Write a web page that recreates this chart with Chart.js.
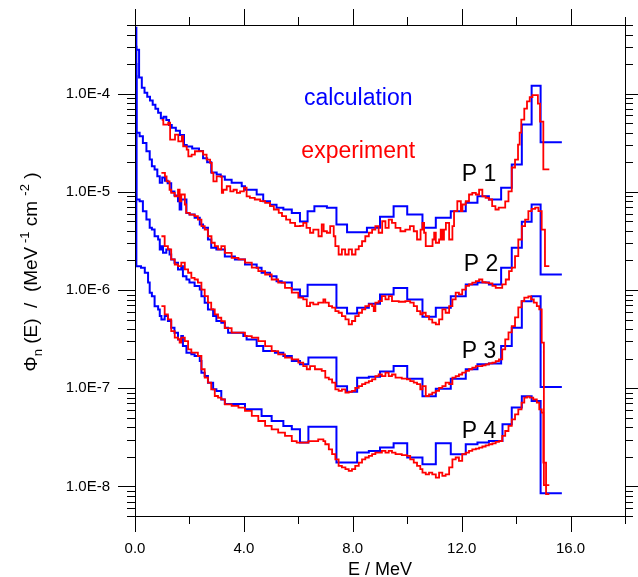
<!DOCTYPE html>
<html>
<head>
<meta charset="utf-8">
<script src="https://cdn.jsdelivr.net/npm/chart.js@4.4.1/dist/chart.umd.min.js"></script>
<style>
  html, body { margin: 0; padding: 0; background: #fff; }
  canvas { display: block; }
</style>
</head>
<body>
<canvas id="chart" width="638" height="577"></canvas>
<script>
// ================= DATA =================
// each series: bin edges in MeV (last entry = end of last bin) and one flux value per bin

// calculation (blue)
const calcE1 = [0, 0.05, 0.15, 0.25, 0.35, 0.45, 0.55, 0.65, 0.75, 0.85,
  0.95, 1.05, 1.15, 1.25, 1.35, 1.5, 1.65, 1.8, 1.9, 2.1,
  2.35, 2.5, 2.65, 2.8, 3.0, 3.15, 3.3, 3.55, 3.92, 4.04,
  4.47, 4.71, 4.96, 5.2, 5.45, 5.76, 6.06, 6.34, 6.59, 7.05,
  7.4, 7.79, 8.52, 9.0, 9.5, 10.0, 10.56, 11.05, 11.6, 12.15,
  12.58, 13.0, 13.45, 13.84, 14.21, 14.57, 14.9, 15.68]
const calcV1 = [4.7e-4, 2.8e-4, 1.46e-4, 1.15e-4, 1.02e-4, 9.3e-5, 8.5e-5, 7.7e-5, 7.0e-5, 6.4e-5,
  5.6e-5, 5.8e-5, 5.4e-5, 4.8e-5, 4.5e-5, 4.2e-5, 3.8e-5, 3.0e-5, 2.9e-5, 2.76e-5,
  2.6e-5, 2.2e-5, 2.0e-5, 1.57e-5, 1.5e-5, 1.43e-5, 1.33e-5, 1.24e-5, 1.14e-5, 1.05e-5,
  9.4e-6, 8.0e-6, 7.4e-6, 6.9e-6, 6.6e-6, 6.1e-6, 5.0e-6, 6.35e-6, 7.15e-6, 6.9e-6,
  4.65e-6, 3.88e-6, 4.3e-6, 5.57e-6, 7.15e-6, 5.87e-6, 4.3e-6, 5.45e-6, 6.35e-6, 7.73e-6,
  9.0e-6, 8.35e-6, 1.1e-5, 1.9e-5, 4.84e-5, 1.2e-4, 3.2e-5]

const calcE2 = [0, 0.05, 0.17, 0.29, 0.42, 0.54, 0.62, 0.72, 0.82, 0.91,
  1.0, 1.1, 1.2, 1.33, 1.45, 1.58, 1.64, 1.7, 1.89, 2.0,
  2.19, 2.38, 2.5, 2.68, 2.8, 2.99, 3.3, 3.67, 4.04, 4.47,
  4.65, 4.96, 5.2, 5.39, 5.76, 6.06, 6.34, 7.4, 7.79, 8.16,
  8.59, 9.0, 9.5, 10.0, 10.56, 11.05, 11.6, 12.15, 12.58, 13.0,
  13.45, 13.84, 14.21, 14.57, 14.9, 15.68]
const calcV2 = [3e-4, 4.0e-5, 3.68e-5, 3.15e-5, 2.59e-5, 2.13e-5, 1.82e-5, 1.69e-5, 1.44e-5, 1.24e-5,
  1.4e-5, 1.3e-5, 1.22e-5, 1.01e-5, 9.2e-6, 8.0e-6, 6.6e-6, 8.35e-6, 6.1e-6, 5.87e-6,
  5.45e-6, 4.65e-6, 4.3e-6, 3.27e-6, 2.69e-6, 2.59e-6, 2.2e-6, 2.05e-6, 1.82e-6, 1.69e-6,
  1.5e-6, 1.38e-6, 1.23e-6, 1.19e-6, 1.01e-6, 8.67e-7, 1.13e-6, 6.6e-7, 5.78e-7, 6.6e-7,
  7.26e-7, 9.0e-7, 1.05e-6, 8.0e-7, 5.35e-7, 6.6e-7, 8.67e-7, 1.14e-6, 1.19e-6, 1.14e-6,
  1.69e-6, 2.69e-6, 4.95e-6, 7.43e-6, 1.44e-6]

const calcE3 = [0, 0.05, 0.17, 0.29, 0.42, 0.54, 0.62, 0.72, 0.85, 0.91,
  0.97, 1.03, 1.15, 1.27, 1.33, 1.45, 1.58, 1.7, 1.76, 1.89,
  2.0, 2.19, 2.38, 2.44, 2.56, 2.68, 2.87, 2.99, 3.17, 3.3,
  3.42, 3.98, 4.1, 4.47, 4.71, 5.14, 5.45, 5.76, 6.06, 6.37,
  7.4, 7.79, 8.16, 8.59, 9.0, 9.5, 10.0, 10.56, 11.05, 11.6,
  12.15, 12.58, 13.0, 13.45, 13.84, 14.21, 14.57, 14.9, 15.68]
const calcV3 = [2e-4, 8.35e-6, 8.0e-6, 6.35e-6, 5.22e-6, 4.3e-6, 4.13e-6, 3.53e-6, 3.27e-6, 2.59e-6,
  2.8e-6, 2.4e-6, 2.59e-6, 2.3e-6, 2.05e-6, 1.9e-6, 1.62e-6, 1.75e-6, 1.38e-6, 1.28e-6,
  1.19e-6, 1.1e-6, 1.01e-6, 8.67e-7, 7.43e-7, 6.35e-7, 5.43e-7, 4.83e-7, 4.65e-7, 4.13e-7,
  3.68e-7, 3.4e-7, 3.14e-7, 2.69e-7, 2.39e-7, 2.3e-7, 2.13e-7, 1.89e-7, 1.75e-7, 2.05e-7,
  1.05e-7, 9.2e-8, 1.28e-7, 1.31e-7, 1.48e-7, 1.68e-7, 1.25e-7, 8.3e-8, 9.9e-8, 1.25e-7,
  1.56e-7, 1.75e-7, 1.79e-7, 2.69e-7, 4.13e-7, 7.7e-7, 8.67e-7, 1.03e-7]

const calcE4 = [0, 0.05, 0.22, 0.36, 0.48, 0.54, 0.62, 0.72, 0.85, 0.91,
  0.97, 1.09, 1.21, 1.33, 1.45, 1.58, 1.7, 1.76, 1.89, 2.07,
  2.19, 2.38, 2.44, 2.56, 2.68, 2.87, 2.99, 3.17, 3.3, 4.04,
  4.65, 5.02, 5.45, 5.76, 6.06, 6.37, 7.4, 8.16, 8.59, 9.0,
  9.5, 10.0, 10.56, 11.05, 11.6, 12.15, 12.58, 13.0, 13.5, 13.84,
  14.21, 14.57, 14.9, 15.68]
const calcV4 = [1.5e-4, 1.75e-6, 1.69e-6, 1.5e-6, 1.19e-6, 9.4e-7, 8.67e-7, 6.85e-7, 6.35e-7, 5.43e-7,
  5.02e-7, 5.43e-7, 4.83e-7, 4.13e-7, 3.68e-7, 3.14e-7, 3.4e-7, 2.69e-7, 2.3e-7, 2.22e-7,
  2.13e-7, 1.89e-7, 1.44e-7, 1.33e-7, 1.14e-7, 9.75e-8, 9.4e-8, 7.7e-8, 6.9e-8, 6.1e-8,
  5.21e-8, 4.64e-8, 4.13e-8, 3.82e-8, 2.8e-8, 4.05e-8, 1.75e-8, 2.21e-8, 2.3e-8, 2.49e-8,
  2.75e-8, 1.97e-8, 1.68e-8, 2.75e-8, 2.13e-8, 2.69e-8, 2.8e-8, 2.9e-8, 4.3e-8, 6.35e-8,
  8.3e-8, 7.4e-8, 8.5e-9]

// experiment (red)
const expE1 = [0.98, 1.04, 1.22, 1.29, 1.47, 1.59, 1.72, 1.77, 1.9, 1.96,
  2.08, 2.2, 2.5, 2.63, 2.76, 2.82, 2.88, 3.0, 3.19, 3.24,
  3.37, 3.5, 3.62, 3.74, 3.86, 4.0, 4.1, 4.22, 4.4, 4.6,
  4.78, 4.96, 5.1, 5.28, 5.4, 5.55, 5.7, 5.88, 6.06, 6.18,
  6.3, 6.43, 6.55, 6.74, 6.86, 6.93, 7.05, 7.17, 7.3, 7.36,
  7.48, 7.6, 7.72, 7.85, 7.97, 8.1, 8.22, 8.34, 8.46, 8.59,
  8.71, 8.83, 8.95, 9.08, 9.2, 9.32, 9.44, 9.57, 9.75, 9.93,
  10.1, 10.24, 10.36, 10.49, 10.56, 10.62, 10.68, 10.93, 10.99, 11.05,
  11.17, 11.23, 11.29, 11.35, 11.42, 11.54, 11.66, 11.72, 11.84, 11.97,
  12.03, 12.15, 12.27, 12.39, 12.52, 12.64, 12.76, 12.88, 13.0, 13.12,
  13.24, 13.36, 13.6, 13.72, 13.84, 13.96, 14.07, 14.13, 14.19, 14.3,
  14.4, 14.5, 14.6, 14.8, 14.88, 15.0, 15.22]
const expV1 = [5.4e-5, 4.84e-5, 5.07e-5, 3.4e-5, 3.83e-5, 3.27e-5, 3.68e-5, 2.91e-5, 2.69e-5, 2.3e-5,
  2.39e-5, 2.59e-5, 2.39e-5, 2.13e-5, 1.97e-5, 1.56e-5, 1.28e-5, 1.44e-5, 9.77e-6, 1.05e-5,
  1.14e-5, 1.01e-5, 1.05e-5, 9.77e-6, 1.01e-5, 1.1e-5, 9.0e-6, 8.68e-6, 8.36e-6, 8.04e-6,
  7.73e-6, 7.15e-6, 6.61e-6, 6.11e-6, 5.65e-6, 5.22e-6, 4.84e-6, 4.47e-6, 4.5e-6, 4.84e-6,
  4.3e-6, 3.83e-6, 4.13e-6, 3.53e-6, 4.65e-6, 3.97e-6, 3.83e-6, 4.47e-6, 3.53e-6, 2.8e-6,
  2.3e-6, 2.59e-6, 2.3e-6, 2.59e-6, 2.3e-6, 2.59e-6, 2.8e-6, 3.14e-6, 3.53e-6, 3.83e-6,
  4.13e-6, 4.47e-6, 3.83e-6, 5.02e-6, 4.3e-6, 5.22e-6, 4.84e-6, 4.3e-6, 3.97e-6, 4.13e-6,
  4.47e-6, 3.97e-6, 3.27e-6, 4.13e-6, 4.84e-6, 3.83e-6, 2.8e-6, 3.27e-6, 3.83e-6, 3.03e-6,
  3.27e-6, 4.13e-6, 3.27e-6, 4.13e-6, 4.84e-6, 3.27e-6, 4.47e-6, 6.35e-6, 8.02e-6, 6.35e-6,
  7.43e-6, 8.02e-6, 9.4e-6, 9.77e-6, 9.4e-6, 1.05e-5, 9.0e-6, 8.68e-6, 8.36e-6, 7.15e-6,
  6.61e-6, 6.9e-6, 8.0e-6, 1.01e-5, 1.77e-5, 2.13e-5, 3.03e-5, 4.01e-5, 5.44e-5, 7.03e-5,
  8.35e-5, 9.2e-5, 9.66e-5, 7.9e-5, 5.19e-5, 1.69e-5]

const expE2 = [0.97, 1.1, 1.16, 1.27, 1.33, 1.46, 1.58, 1.64, 1.7, 1.83,
  1.88, 2.01, 2.19, 2.31, 2.44, 2.56, 2.68, 2.81, 2.93, 3.05,
  3.17, 3.3, 3.55, 3.8, 4.04, 4.29, 4.53, 4.78, 5.02, 5.26,
  5.51, 5.76, 6.0, 6.18, 6.31, 6.43, 6.55, 6.73, 6.92, 6.99,
  7.12, 7.24, 7.36, 7.48, 7.6, 7.73, 7.85, 7.97, 8.09, 8.22,
  8.34, 8.46, 8.59, 8.71, 8.77, 8.83, 8.95, 9.07, 9.2, 9.32,
  9.44, 9.69, 9.93, 10.11, 10.24, 10.36, 10.48, 10.56, 10.68, 10.8,
  10.92, 11.05, 11.17, 11.29, 11.41, 11.54, 11.66, 11.78, 11.9, 12.02,
  12.15, 12.27, 12.39, 12.52, 12.64, 12.76, 12.88, 13.0, 13.13, 13.25,
  13.49, 13.62, 13.74, 13.84, 13.96, 14.08, 14.21, 14.33, 14.45, 14.57,
  14.7, 14.82, 14.94, 15.06, 15.22]
const expV2 = [1.56e-5, 1.44e-5, 1.28e-5, 1.05e-5, 9.77e-6, 9.0e-6, 1.05e-5, 8.02e-6, 9.4e-6, 7.43e-6,
  6.11e-6, 5.87e-6, 5.65e-6, 5.22e-6, 4.47e-6, 4.13e-6, 3.53e-6, 3.03e-6, 2.8e-6, 2.59e-6,
  2.8e-6, 2.39e-6, 2.13e-6, 2.05e-6, 1.9e-6, 1.69e-6, 1.56e-6, 1.44e-6, 1.28e-6, 1.19e-6,
  1.05e-6, 9.4e-7, 8.36e-7, 8.02e-7, 6.86e-7, 7.43e-7, 7.15e-7, 7.43e-7, 8.02e-7, 7.43e-7,
  6.86e-7, 6.61e-7, 6.1e-7, 5.87e-7, 5.42e-7, 5.02e-7, 4.47e-7, 4.84e-7, 5.42e-7, 5.87e-7,
  6.35e-7, 6.86e-7, 7.15e-7, 6.86e-7, 6.1e-7, 7.43e-7, 7.71e-7, 8.67e-7, 8.02e-7, 8.67e-7,
  7.71e-7, 7.6e-7, 7.71e-7, 7.43e-7, 6.86e-7, 6.1e-7, 5.65e-7, 5.87e-7, 5.42e-7, 5.02e-7,
  4.65e-7, 4.47e-7, 5.02e-7, 6.35e-7, 5.87e-7, 6.86e-7, 8.02e-7, 9.4e-7, 9.05e-7, 1.01e-6,
  1.1e-6, 1.14e-6, 1.19e-6, 1.23e-6, 1.28e-6, 1.2e-6, 1.19e-6, 1.17e-6, 1.1e-6, 1.05e-6,
  1.14e-6, 1.28e-6, 1.56e-6, 1.69e-6, 2.21e-6, 3.27e-6, 4.47e-6, 5.22e-6, 6.35e-6, 6.71e-6,
  6.9e-6, 6.35e-6, 4.13e-6, 1.75e-6]

const expE3 = [0.97, 1.09, 1.21, 1.33, 1.46, 1.58, 1.7, 1.83, 1.95, 2.07,
  2.19, 2.31, 2.44, 2.56, 2.68, 2.8, 2.93, 3.05, 3.17, 3.3,
  3.55, 3.8, 4.04, 4.29, 4.53, 4.78, 5.02, 5.26, 5.51, 5.76,
  6.0, 6.18, 6.31, 6.43, 6.61, 6.86, 6.99, 7.12, 7.24, 7.36,
  7.48, 7.6, 7.73, 7.85, 7.97, 8.09, 8.22, 8.34, 8.46, 8.59,
  8.71, 8.83, 8.95, 9.07, 9.2, 9.32, 9.44, 9.57, 9.8, 9.99,
  10.11, 10.24, 10.36, 10.48, 10.56, 10.68, 10.8, 10.92, 11.05, 11.17,
  11.29, 11.41, 11.54, 11.66, 11.78, 11.9, 12.02, 12.15, 12.27, 12.39,
  12.52, 12.64, 12.76, 12.88, 13.0, 13.13, 13.25, 13.37, 13.49, 13.6,
  13.72, 13.84, 13.96, 14.08, 14.2, 14.3, 14.45, 14.55, 14.65, 14.76,
  14.85, 14.94, 15.02, 15.22]
const expV3 = [3.53e-6, 2.8e-6, 2.59e-6, 2.05e-6, 1.82e-6, 1.75e-6, 1.9e-6, 1.62e-6, 1.5e-6, 1.33e-6,
  1.28e-6, 1.19e-6, 1.01e-6, 8.67e-7, 7.43e-7, 6.35e-7, 5.65e-7, 5.22e-7, 4.83e-7, 4.1e-7,
  3.68e-7, 3.68e-7, 3.4e-7, 3.27e-7, 3.02e-7, 2.69e-7, 2.39e-7, 2.21e-7, 2.05e-7, 1.97e-7,
  1.82e-7, 1.68e-7, 1.56e-7, 1.68e-7, 1.56e-7, 1.5e-7, 1.28e-7, 1.23e-7, 1.14e-7, 9.75e-8,
  9.4e-8, 9.75e-8, 9.02e-8, 9.2e-8, 9.4e-8, 1.01e-7, 1.05e-7, 1.1e-7, 1.14e-7, 1.18e-7,
  1.23e-7, 1.33e-7, 1.38e-7, 1.33e-7, 1.44e-7, 1.33e-7, 1.38e-7, 1.28e-7, 1.25e-7, 1.23e-7,
  1.18e-7, 1.14e-7, 1.1e-7, 9.75e-8, 1.05e-7, 8.34e-8, 8.67e-8, 9.02e-8, 9.4e-8, 1.01e-7,
  1.05e-7, 1.14e-7, 1.1e-7, 1.28e-7, 1.33e-7, 1.38e-7, 1.44e-7, 1.5e-7, 1.56e-7, 1.62e-7,
  1.68e-7, 1.68e-7, 1.71e-7, 1.75e-7, 1.79e-7, 1.82e-7, 1.89e-7, 1.97e-7, 2.49e-7, 3.14e-7,
  3.71e-7, 4.3e-7, 5.26e-7, 6.65e-7, 7.71e-7, 8.36e-7, 8.61e-7, 8.02e-7, 7.43e-7, 6.86e-7,
  6.35e-7, 2.91e-7, 1.03e-8]

const expE4 = [0.97, 1.09, 1.21, 1.33, 1.46, 1.58, 1.64, 1.7, 1.83, 1.95,
  2.07, 2.31, 2.44, 2.56, 2.68, 2.8, 2.93, 3.05, 3.17, 3.3,
  3.55, 3.8, 4.04, 4.29, 4.53, 4.78, 5.02, 5.26, 5.51, 5.76,
  5.94, 6.37, 6.73, 6.92, 6.99, 7.12, 7.24, 7.36, 7.48, 7.6,
  7.73, 7.85, 7.97, 8.09, 8.22, 8.34, 8.46, 8.59, 8.71, 8.83,
  9.07, 9.2, 9.32, 9.44, 9.57, 9.8, 9.99, 10.11, 10.24, 10.36,
  10.48, 10.56, 10.68, 10.8, 10.92, 11.05, 11.17, 11.29, 11.41, 11.54,
  11.66, 11.78, 11.9, 12.02, 12.15, 12.27, 12.39, 12.52, 12.64, 12.76,
  12.88, 13.0, 13.13, 13.25, 13.37, 13.49, 13.6, 13.72, 13.84, 13.96,
  14.08, 14.2, 14.3, 14.4, 14.5, 14.63, 14.76, 14.85, 14.94, 15.0,
  15.1, 15.22]
const expV4 = [6.86e-7, 5.65e-7, 5.02e-7, 3.82e-7, 3.27e-7, 3.14e-7, 2.91e-7, 3.27e-7, 3.02e-7, 2.49e-7,
  2.3e-7, 2.13e-7, 1.56e-7, 1.28e-7, 1.14e-7, 9.75e-8, 8.34e-8, 8.02e-8, 7.71e-8, 6.86e-8,
  6.6e-8, 6.35e-8, 5.87e-8, 5.22e-8, 4.64e-8, 4.13e-8, 3.82e-8, 3.53e-8, 3.27e-8, 2.9e-8,
  2.8e-8, 2.9e-8, 3.02e-8, 2.9e-8, 2.69e-8, 2.39e-8, 2.13e-8, 1.89e-8, 1.62e-8, 1.56e-8,
  1.5e-8, 1.44e-8, 1.5e-8, 1.62e-8, 1.75e-8, 1.89e-8, 1.97e-8, 2.05e-8, 2.13e-8, 2.21e-8,
  2.3e-8, 2.21e-8, 2.3e-8, 2.21e-8, 2.13e-8, 2.08e-8, 2.05e-8, 1.89e-8, 1.75e-8, 1.62e-8,
  1.5e-8, 1.38e-8, 1.33e-8, 1.38e-8, 1.33e-8, 1.23e-8, 1.38e-8, 1.28e-8, 1.33e-8, 1.56e-8,
  1.89e-8, 1.97e-8, 1.82e-8, 2.13e-8, 2.21e-8, 2.3e-8, 2.39e-8, 2.43e-8, 2.49e-8, 2.55e-8,
  2.62e-8, 2.69e-8, 2.75e-8, 2.84e-8, 2.9e-8, 3.27e-8, 3.67e-8, 4.13e-8, 4.83e-8, 5.43e-8,
  6.1e-8, 7.13e-8, 8.02e-8, 8.2e-8, 8.02e-8, 7.71e-8, 7.13e-8, 6.1e-8, 5.65e-8, 1.75e-8,
  8.34e-9]

// axes
const xTickLabels = [0, 4, 8, 12, 16]
const yTickLabels = [1e-8, 1e-7, 1e-6, 1e-5, 1e-4]

// text placed in the plot (data coordinates: MeV, flux at the text baseline)
const notes = [
  { text: 'calculation', e: 8.2, v: 7.7e-5, color: '#0000ff', align: 'center' },
  { text: 'experiment', e: 8.2, v: 2.2e-5, color: '#ff0000', align: 'center' },
  { text: 'P 1', e: 12.0, v: 1.28e-5, color: '#000', align: 'left' },
  { text: 'P 2', e: 12.08, v: 1.56e-6, color: '#000', align: 'left' },
  { text: 'P 3', e: 12.0, v: 2.05e-7, color: '#000', align: 'left' },
  { text: 'P 4', e: 12.0, v: 3.14e-8, color: '#000', align: 'left' }
]

// ================= CHART =================
const FONT = '"Liberation Sans", Arial, sans-serif'
Chart.defaults.font.family = FONT

function steps(edges, vals) {
  const pts = vals.map((v, i) => ({ x: edges[i], y: v }))
  pts.push({ x: edges[edges.length - 1], y: vals[vals.length - 1] })
  return pts
}

function series(edges, vals, color, width) {
  return {
    data: steps(edges, vals),
    borderColor: color,
    borderWidth: width,
    stepped: 'before',
    pointRadius: 0,
    fill: false
  }
}

// red first so it is painted on top
const datasets = [
  series(expE1, expV1, '#ff0000', 1.8),
  series(expE2, expV2, '#ff0000', 1.8),
  series(expE3, expV3, '#ff0000', 1.8),
  series(expE4, expV4, '#ff0000', 1.8),
  series(calcE1, calcV1, '#0000ff', 2),
  series(calcE2, calcV2, '#0000ff', 2),
  series(calcE3, calcV3, '#0000ff', 2),
  series(calcE4, calcV4, '#0000ff', 2)
]

// frame, tick marks on all four sides, axis titles, text notes
const decor = {
  id: 'decor',
  afterDraw(chart) {
    const { ctx, chartArea: a, scales: { x, y } } = chart
    ctx.save()
    ctx.strokeStyle = '#000'
    ctx.lineWidth = 1
    ctx.strokeRect(a.left + 0.5, a.top + 0.5, a.right - a.left, a.bottom - a.top)

    ctx.beginPath()
    for (let e = x.min; e <= x.max + 1e-9; e += 2) {
      const px = Math.round(x.getPixelForValue(e)) + 0.5
      const len = e % 4 === 0 ? 16 : 8
      ctx.moveTo(px, a.bottom); ctx.lineTo(px, a.bottom + len)
      ctx.moveTo(px, a.top); ctx.lineTo(px, a.top - len)
    }
    for (let p = -9; p <= -4; p++) {
      for (let m = 1; m <= 9; m++) {
        const v = m * Math.pow(10, p)
        if (v < y.min * 0.999 || v > y.max * 1.001) continue
        const py = Math.round(y.getPixelForValue(v)) + 0.5
        const len = m === 1 ? 17 : 8
        ctx.moveTo(a.left, py); ctx.lineTo(a.left - len, py)
        ctx.moveTo(a.right, py); ctx.lineTo(a.right + len, py)
      }
    }
    ctx.stroke()

    // x title
    ctx.fillStyle = '#000'
    ctx.font = '18px ' + FONT
    ctx.textAlign = 'center'
    ctx.textBaseline = 'alphabetic'
    ctx.fillText('E / MeV', (a.left + a.right) / 2, 575)

    // y title with sub/superscripts
    const big = '19px ' + FONT
    const small = '13px ' + FONT
    const parts = [
      ['Φ', big, 0], ['n', small, 5], [' (E)  /  (MeV', big, 0],
      [' -1', small, -8], [' cm ', big, 0], ['-2', small, -8], [' )', big, 0]
    ]
    let w = 0
    parts.forEach(p => { ctx.font = p[1]; w += ctx.measureText(p[0]).width })
    ctx.translate(37, 272)
    ctx.rotate(-Math.PI / 2)
    ctx.textAlign = 'left'
    let cx = -w / 2
    parts.forEach(p => {
      ctx.font = p[1]
      ctx.fillText(p[0], cx, p[2])
      cx += ctx.measureText(p[0]).width
    })
    ctx.setTransform(1, 0, 0, 1, 0, 0)

    // notes
    ctx.font = '23px ' + FONT
    notes.forEach(n => {
      ctx.fillStyle = n.color
      ctx.textAlign = n.align
      ctx.fillText(n.text, x.getPixelForValue(n.e), y.getPixelForValue(n.v))
    })
    ctx.restore()
  }
}

new Chart(document.getElementById('chart'), {
  type: 'line',
  data: { datasets },
  options: {
    responsive: false,
    animation: false,
    events: [],
    layout: { padding: { top: 25, right: 13, left: 0, bottom: 0 } },
    plugins: { legend: { display: false }, tooltip: { enabled: false } },
    scales: {
      x: {
        type: 'linear',
        min: 0,
        max: 18,
        grid: { display: false, drawTicks: false },
        border: { display: false },
        afterBuildTicks: s => { s.ticks = xTickLabels.map(v => ({ value: v })) },
        afterFit: s => { s.height = 61; s.paddingLeft = 0; s.paddingRight = 0 },
        ticks: {
          color: '#000',
          font: { size: 15 },
          padding: 24,
          maxRotation: 0,
          autoSkip: false,
          callback: v => v.toFixed(1)
        }
      },
      y: {
        type: 'logarithmic',
        min: 5e-9,
        max: 5e-4,
        grid: { display: false, drawTicks: false },
        border: { display: false },
        afterBuildTicks: s => { s.ticks = yTickLabels.map(v => ({ value: v })) },
        afterFit: s => { s.width = 135; s.paddingTop = 0; s.paddingBottom = 0 },
        ticks: {
          color: '#000',
          font: { size: 15 },
          padding: 25,
          autoSkip: false,
          callback: v => '1.0E' + Math.round(Math.log10(v))
        }
      }
    }
  },
  plugins: [decor]
})
</script>
</body>
</html>
